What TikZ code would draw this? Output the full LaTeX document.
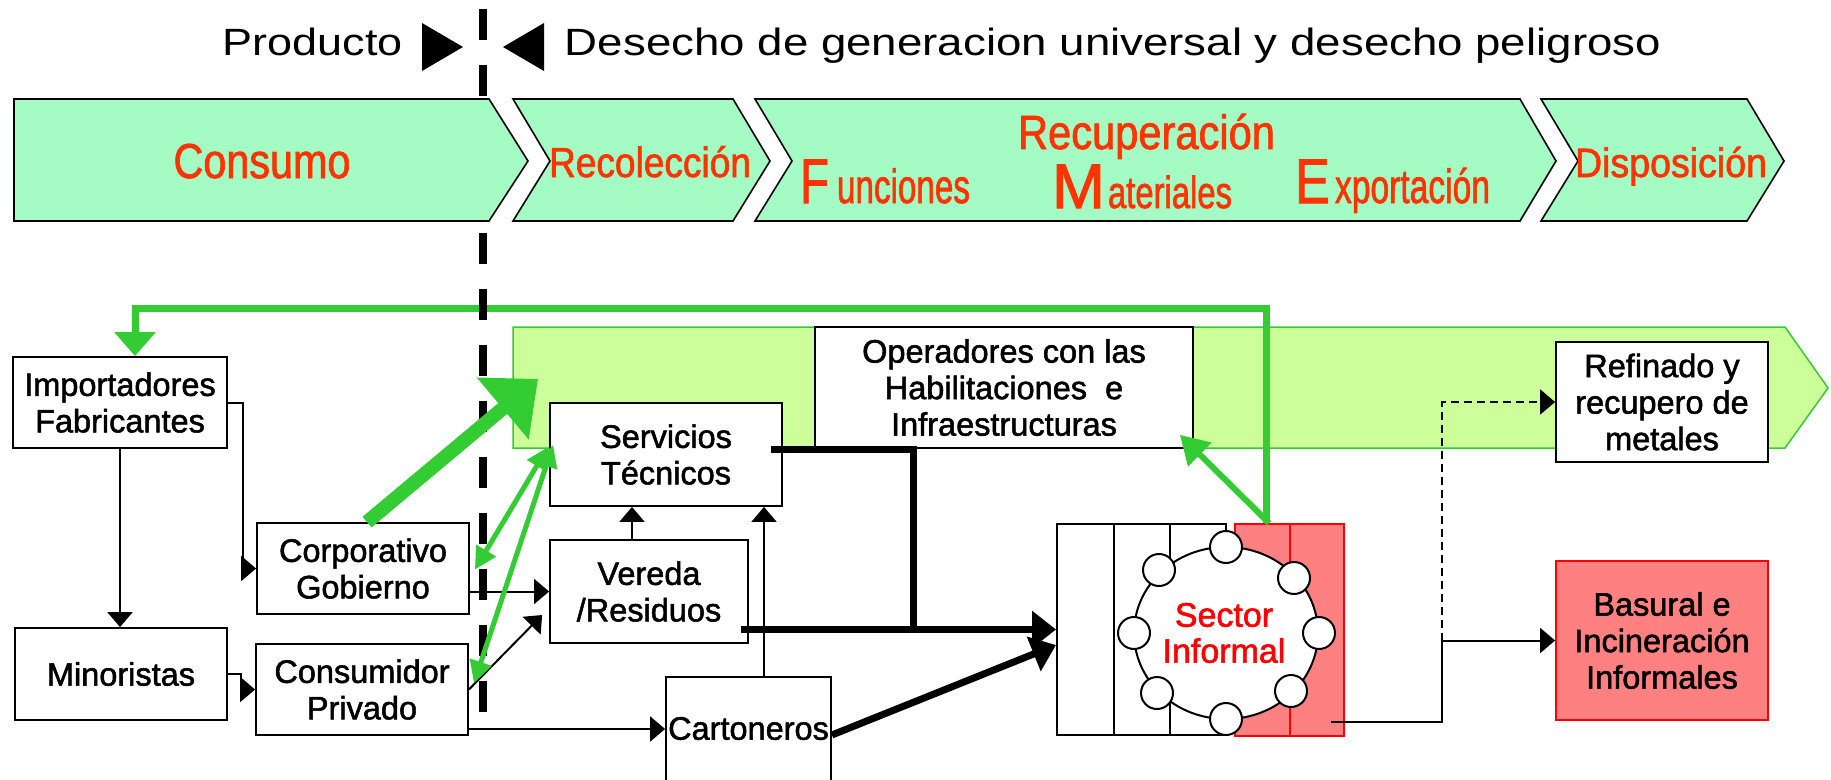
\documentclass[tikz,border=0pt]{standalone}
\usepackage{fontspec}
\setmainfont{Liberation Sans}[FakeBold=1.6]
\newfontfamily\thinfont{Liberation Sans}
\usepackage{graphicx}
\usetikzlibrary{arrows.meta,shapes.geometric}
\definecolor{chev}{RGB}{164,251,196}
\definecolor{lbl}{RGB}{255,51,0}
\definecolor{grn}{RGB}{51,204,51}
\definecolor{bandc}{RGB}{204,255,153}
\definecolor{pinkc}{RGB}{255,128,128}
\newcommand{\fitw}[3]{\resizebox{#1pt}{\height}{\fontsize{#2}{#2}\selectfont #3}}
\begin{document}
\begin{tikzpicture}[x=1pt,y=-1pt,
  bx/.style={draw=black,line width=1.8pt,fill=white,inner sep=0pt,align=center,font=\fontsize{32.5}{36.5}\selectfont},
  chv/.style={fill=chev,draw=black,line width=1.6pt,line join=miter},
  lab/.style={anchor=base,inner sep=0pt,text=lbl},
  arr/.style={line width=2pt,-{Triangle[length=15pt,width=25pt]}},
  thk/.style={line width=7pt},
  tharr/.style={line width=7pt,-{Triangle[length=24pt,width=36pt]}},
  gln/.style={draw=grn,line width=7pt},
  garr/.style={draw=grn,line width=5pt,{Triangle[length=22pt,width=22pt]}-{Triangle[length=22pt,width=22pt]}},
  smc/.style={draw=black,fill=white,line width=2pt,circle,minimum size=32pt,inner sep=0pt}
]
\useasboundingbox (0,0) rectangle (1831,779);

% light green band
\filldraw[fill=bandc,draw=grn,line width=1.5pt] (513,327) -- (1785,327) -- (1828,388) -- (1785,448) -- (513,448) -- cycle;

% boxes
\node[bx,minimum width=214pt,minimum height=91pt] (imp) at (120,402.5) {Importadores\\Fabricantes};
\node[bx,minimum width=212pt,minimum height=92pt] (mino) at (121,674) {Minoristas};
\node[bx,minimum width=212pt,minimum height=91pt] (corp) at (363,568.5) {Corporativo\\Gobierno};
\node[bx,minimum width=212pt,minimum height=91pt] (cons) at (362,689.5) {Consumidor\\Privado};
\node[bx,minimum width=232pt,minimum height=103pt] (serv) at (666,454.5) {Servicios\\Técnicos};
\node[bx,minimum width=198pt,minimum height=103pt] (ver) at (649,591.5) {Vereda\\/Residuos};
\node[bx,minimum width=165pt,minimum height=123pt] (cart) at (748.5,738.5) {};
\node[inner sep=0pt,font=\fontsize{32.5}{36.5}\selectfont] (cartt) at (748.5,728.5) {Cartoneros};
\node[bx,minimum width=378pt,minimum height=121pt] (oper) at (1004,387.5) {Operadores con las\\Habilitaciones \ e\\Infraestructuras};
\node[bx,minimum width=212pt,minimum height=120pt] (ref) at (1662,402) {Refinado y\\recupero de\\metales};
\node[bx,draw=red,fill=pinkc,minimum width=212pt,minimum height=159pt] (bas) at (1662,640.5) {Basural e\\Incineración\\Informales};

% sector informal
\node[draw=black,fill=white,line width=2pt,minimum width=169pt,minimum height=211pt,inner sep=0pt] (sect) at (1141.5,629.5) {};
\draw[line width=2pt] (1114,524) -- (1114,735) (1170,524) -- (1170,735);
\node[draw=red,fill=pinkc,line width=2pt,minimum width=109pt,minimum height=212pt,inner sep=0pt] (red) at (1289.5,630) {};
\draw[red,line width=2pt] (1290,524) -- (1290,736);
\node[draw=black,fill=white,line width=2pt,ellipse,minimum width=184pt,minimum height=172pt,inner sep=0pt] (circ) at (1226,633) {};
\node[smc] (c1) at (1226,547) {};
\node[smc] (c2) at (1159,570) {};
\node[smc] (c3) at (1294,578) {};
\node[smc] (c4) at (1134,633) {};
\node[smc] (c5) at (1319,633) {};
\node[smc] (c6) at (1157,693) {};
\node[smc] (c7) at (1291,691) {};
\node[smc] (c8) at (1226,719) {};
\node[text=red,align=center,inner sep=0pt,font=\fontsize{34}{36}\selectfont] (sectt) at (1224,633) {Sector\\Informal};

% green top line
\draw[gln,-{Triangle[length=24pt,width=40pt]}] ([shift={(-23.5,0)}]red.north) -- ++(0,-215) -| ([shift={(15,0)}]imp.north);

% dashed divider
\draw[line width=8pt,dash pattern=on 31pt off 25pt] (483,9) -- (483,713);

% chevrons
\path[chv] (14,99) -- (489,99) -- (528,161) -- (489,221) -- (14,221) -- cycle;
\path[chv] (513,99) -- (733,99) -- (770,161) -- (733,221) -- (513,221) -- (550,161) -- cycle;
\path[chv] (755,99) -- (1520,99) -- (1556,161) -- (1520,221) -- (755,221) -- (792,161) -- cycle;
\path[chv] (1541,99) -- (1747,99) -- (1784,161) -- (1747,221) -- (1541,221) -- (1578,161) -- cycle;
\node[lab] (lcons) at (262,178) {\fitw{177}{49}{Consumo}};
\node[lab] (lreco) at (650,177) {\fitw{202}{42}{Recolección}};
\node[lab] (lrecu) at (1146.5,149) {\fitw{257}{48}{Recuperación}};
\node[lab] (lF) at (814.5,203) {\fitw{29}{63}{F}};
\node[lab] (lunc) at (903.5,203) {\fitw{133}{48}{unciones}};
\node[lab] (lM) at (1078.5,208) {\fitw{53}{63}{M}};
\node[lab] (late) at (1170,208) {\fitw{124}{45}{ateriales}};
\node[lab] (lE) at (1312.5,203) {\fitw{35}{63}{E}};
\node[lab] (lxpo) at (1412.5,203) {\fitw{155}{48}{xportación}};
\node[lab] (ldisp) at (1671,177) {\fitw{192}{41}{Disposición}};

% top text
\node[anchor=base,inner sep=0pt,font=\thinfont] (prod) at (313,55) {\fitw{180}{38}{\thinfont Producto}};
\node[anchor=base,inner sep=0pt,font=\thinfont] (dese) at (1113,55) {\fitw{1096}{38}{\thinfont Desecho de generacion universal y desecho peligroso}};
\fill (422,23) -- (463,47) -- (422,71) -- cycle;
\fill (544,23) -- (503,47) -- (544,71) -- cycle;

% thin black connectors
\draw[arr] (imp.south) -- (imp.south |- mino.north);
\draw[arr] (imp.east) -- ++(15,0) |- (corp.west);
\draw[arr] (mino.east) -- ++(13,0) |- (cons.west);
\draw[arr] (corp.east |- ver.west) -- (ver.west);
\draw[arr] (cons.east) -- ([shift={(-7,23.5)}]ver.west);
\draw[arr] ([shift={(0,39.5)}]cons.east) -- ([shift={(0,39.5)}]cons.east -| cart.west);
\draw[arr] ([shift={(-17,0)}]ver.north) -- ([shift={(-17,0)}]ver.north |- serv.south);
\draw[arr] ([shift={(15.5,0)}]cart.north) -- ([shift={(15.5,0)}]cart.north |- serv.south);

% thick black connectors
\coordinate (j2) at (913,629.5);
\draw[thk] ([shift={(-12,-5.5)}]serv.east) -| (j2);
\draw[tharr] ([shift={(-8,38)}]ver.east) -- (sect.west);
\draw[tharr] ([shift={(0,-3.5)}]cart.east) -- ([shift={(0,15.5)}]sect.west);

% outputs of sector informal
\coordinate (jj) at (1442,640.5);
\draw[arr] ([shift={(-14,-15)}]red.south east) -| (jj) -- (bas.west);
\draw[arr,dash pattern=on 8pt off 5pt] (jj) |- (ref.west);

% green arrows
\coordinate (gtip) at (538,379);
\draw[draw=grn,line width=14pt,-{Triangle[length=46pt,width=78pt]}] ([shift={(4,0)}]corp.north) -- (gtip);
\draw[garr] ([shift={(5,1)}]corp.east) -- ([shift={(-1,-7.5)}]serv.west);
\draw[garr] ([shift={(5,-6.5)}]cons.east) -- ([shift={(4,-9.5)}]serv.west);
\draw[draw=grn,line width=6pt,-{Triangle[length=28pt,width=32pt]}] ([shift={(-20.5,0)}]red.north) -- ([shift={(-14,-14)}]oper.south east);
\end{tikzpicture}
\end{document}
